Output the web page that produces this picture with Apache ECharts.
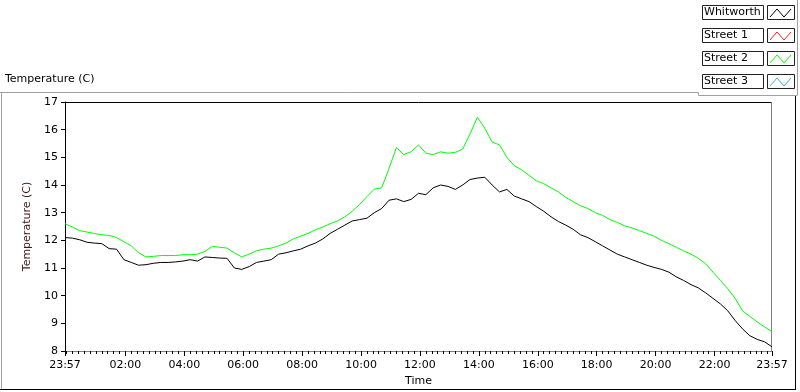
<!DOCTYPE html>
<html>
<head>
<meta charset="utf-8">
<script src="https://cdn.jsdelivr.net/npm/echarts@6/dist/echarts.min.js"></script>
<style>
  html, body { margin: 0; padding: 0; background: #fff; }
  #chart { width: 800px; height: 392px; }
</style>
</head>
<body>
<div id="chart"></div>
<script>
// minutes since 23:57, one reading every 15 min
var times = []
for (var i = 0; i <= 96; i++) times.push(i * 15)

var whitworth = [
	12.10, 12.08, 12.02, 11.93, 11.90, 11.88, 11.70, 11.68, 11.30, 11.20,
	11.10, 11.12, 11.17, 11.20, 11.20, 11.22, 11.25, 11.30, 11.25, 11.40,
	11.38, 11.36, 11.35, 11.00, 10.95, 11.05, 11.20, 11.25, 11.30, 11.50,
	11.55, 11.62, 11.68, 11.80, 11.90, 12.05, 12.25, 12.40, 12.55, 12.70,
	12.75, 12.80, 13.00, 13.15, 13.45, 13.50, 13.40, 13.48, 13.70, 13.65,
	13.90, 14.00, 13.95, 13.84, 14.00, 14.20, 14.25, 14.28, 14.00, 13.75,
	13.84, 13.60, 13.50, 13.40, 13.22, 13.05, 12.85, 12.68, 12.55, 12.40,
	12.20, 12.10, 11.95, 11.80, 11.65, 11.50, 11.40, 11.30, 11.20, 11.10,
	11.02, 10.95, 10.85, 10.68, 10.55, 10.40, 10.28, 10.10, 9.90, 9.70,
	9.45, 9.10, 8.80, 8.55, 8.42, 8.33, 8.15
]
var street1 = []
var street2 = [
	12.60, 12.48, 12.35, 12.30, 12.25, 12.20, 12.18, 12.10, 11.95, 11.80,
	11.55, 11.40, 11.42, 11.45, 11.45, 11.45, 11.48, 11.48, 11.50, 11.60,
	11.78, 11.75, 11.72, 11.55, 11.40, 11.50, 11.62, 11.68, 11.72, 11.80,
	11.90, 12.05, 12.15, 12.25, 12.38, 12.48, 12.60, 12.70, 12.85, 13.05,
	13.30, 13.58, 13.85, 13.90, 14.60, 15.35, 15.10, 15.20, 15.45, 15.15,
	15.10, 15.20, 15.15, 15.18, 15.30, 15.85, 16.45, 16.05, 15.55, 15.45,
	15.00, 14.70, 14.55, 14.35, 14.15, 14.05, 13.90, 13.75, 13.55, 13.40,
	13.25, 13.15, 13.00, 12.90, 12.75, 12.65, 12.52, 12.45, 12.35, 12.25,
	12.15, 12.00, 11.88, 11.75, 11.62, 11.50, 11.35, 11.15, 10.85, 10.55,
	10.25, 9.90, 9.45, 9.25, 9.05, 8.87, 8.70
]
var street3 = []

var seriesNames = ['Whitworth', 'Street 1', 'Street 2', 'Street 3']
var seriesColors = ['#000000', '#ff2020', '#00ff00', '#30b0ff']

// x tick positions (minutes since 23:57)
var majorTicks = [0, 123, 243, 363, 483, 603, 723, 843, 963, 1083, 1203, 1323, 1440]
var minorTicks = []
for (var m = 3; m < 1440; m += 12) minorTicks.push(m)

var font = 'DejaVu Sans'

function clock(t) {
	var c = (t + 1437) % 1440
	var h = Math.floor(c / 60), mm = c % 60
	return (h < 10 ? '0' : '') + h + ':' + (mm < 10 ? '0' : '') + mm
}

function pairs(vals) {
	return vals.map(function (v, i) { return [times[i], v] })
}

// legend drawn as boxes like the original panel
var legend = []
seriesNames.forEach(function (name, i) {
	var y = 5 + i * 23
	legend.push({
		type: 'rect', shape: { x: 702.5, y: y + 0.5, width: 61, height: 14 },
		style: { fill: '#fff', stroke: '#222', lineWidth: 1 }
	})
	legend.push({
		type: 'text', left: 704, top: y + 2,
		style: { text: name, fill: '#000', font: '11px ' + font }
	})
	legend.push({
		type: 'rect', shape: { x: 767.5, y: y + 0.5, width: 27, height: 14 },
		style: { fill: '#fff', stroke: '#222', lineWidth: 1 }
	})
	legend.push({
		type: 'polyline',
		shape: { points: [[770, y + 12], [777, y + 4], [784, y + 12], [791, y + 4]] },
		style: { stroke: seriesColors[i], lineWidth: 1, fill: null }
	})
})

var frame = [
	{ type: 'polyline', shape: { points: [[0, 92.5], [698.5, 92.5], [698.5, 95.5], [797.5, 95.5]] },
	  style: { stroke: '#a0a0a0', lineWidth: 1, fill: null } },
	{ type: 'line', shape: { x1: 797.5, y1: 0, x2: 797.5, y2: 95 }, style: { stroke: '#a0a0a0', lineWidth: 1 } },
	{ type: 'line', shape: { x1: 1.5, y1: 92, x2: 1.5, y2: 390 }, style: { stroke: '#a0a0a0', lineWidth: 1 } },
	{ type: 'line', shape: { x1: 0, y1: 389.5, x2: 796, y2: 389.5 }, style: { stroke: '#000', lineWidth: 1 } },
	{ type: 'line', shape: { x1: 795.5, y1: 96, x2: 795.5, y2: 390 }, style: { stroke: '#000', lineWidth: 1 } },
	// plot frame top/right
	{ type: 'line', shape: { x1: 65, y1: 102.5, x2: 772, y2: 102.5 }, style: { stroke: '#000', lineWidth: 1 } },
	{ type: 'line', shape: { x1: 771.5, y1: 102, x2: 771.5, y2: 352 }, style: { stroke: '#808080', lineWidth: 1 } },
	{ type: 'text', left: 5, top: 74, style: { text: 'Temperature (C)', fill: '#000', font: '11px ' + font } }
]

var chart = echarts.init(document.getElementById('chart'))
var option = {}
option.animation = false
option.backgroundColor = '#fff'

option.grid = { left: 65, right: 28, top: 102, bottom: 40 }

option.xAxis = [{
	type: 'value',
	min: 0,
	max: 1440,
	name: 'Time',
	nameLocation: 'middle',
	nameGap: 25,
	nameTextStyle: { color: '#000', fontFamily: font, fontSize: 11 },
	splitLine: { show: false },
	axisLine: { lineStyle: { color: '#808080', width: 1 } },
	axisTick: { customValues: majorTicks, length: 5, lineStyle: { color: '#000' } },
	axisLabel: {
		customValues: majorTicks,
		margin: 9,
		color: '#000',
		fontFamily: font,
		fontSize: 11,
		formatter: function (v) { return clock(v) }
	}
}, {
	type: 'value',
	min: 0,
	max: 1440,
	position: 'bottom',
	splitLine: { show: false },
	axisLine: { show: false },
	axisTick: { customValues: minorTicks, length: 3, lineStyle: { color: '#000' } },
	axisLabel: { show: false }
}]

option.yAxis = {
	type: 'value',
	min: 8,
	max: 17,
	interval: 1,
	name: 'Temperature (C)',
	nameLocation: 'middle',
	nameRotate: 90,
	nameGap: 26,
	nameTextStyle: { color: '#401818', fontFamily: font, fontSize: 11 },
	splitLine: { show: false },
	axisLine: { show: true, lineStyle: { color: '#000', width: 1 } },
	axisTick: { show: true, length: 4, lineStyle: { color: '#000' } },
	axisLabel: { margin: 7, color: '#000', fontFamily: font, fontSize: 11 }
}

var vals = [whitworth, street1, street2, street3]
option.series = seriesNames.map(function (name, i) {
	return {
		name: name,
		type: 'line',
		showSymbol: false,
		symbol: 'none',
		lineStyle: { color: seriesColors[i], width: 1 },
		data: pairs(vals[i])
	}
})

option.graphic = frame.concat(legend)

chart.setOption(option)
</script>
</body>
</html>
